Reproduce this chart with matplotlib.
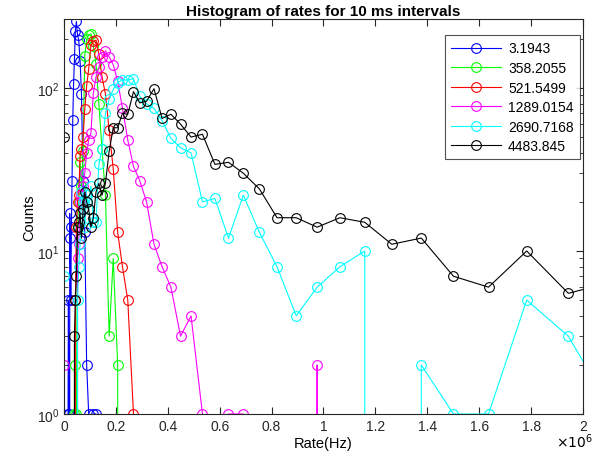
import matplotlib
matplotlib.use("Agg")
import matplotlib.pyplot as plt
from matplotlib.ticker import FixedLocator, FuncFormatter, LogLocator, NullFormatter

plt.rcParams['font.family'] = ['Liberation Sans', 'DejaVu Sans']

# Common histogram bin centres (Hz)
rate_bins = [0, 15.6e3, 17.0e3, 18.5e3, 20.2e3, 22.0e3, 24.0e3, 26.1e3, 28.5e3, 31.0e3,
             33.8e3, 36.9e3, 40.2e3, 43.8e3, 47.8e3, 52.1e3, 56.8e3, 61.9e3, 67.4e3, 73.5e3,
             80.1e3, 87.3e3, 95.2e3, 103.8e3, 113.1e3, 123.3e3, 134.4e3, 146.5e3, 159.7e3, 174.0e3,
             189.7e3, 206.8e3, 225.4e3, 245.7e3, 267.8e3, 291.9e3, 318.2e3, 346.8e3, 378.0e3, 412.0e3,
             449.1e3, 489.5e3, 533.6e3, 581.6e3, 633.9e3, 691.0e3, 753.2e3, 821.0e3, 894.9e3, 975.4e3,
             1063.2e3, 1158.9e3, 1263.2e3, 1376.9e3, 1500.8e3, 1635.9e3, 1783.1e3, 1943.6e3, 2118.5e3]

labels = ['3.1943', '358.2055', '521.5499', '1289.0154', '2690.7168', '4483.845']

counts_3_1943 = [0, 1, 5, 1, 0, 17, 12, 5, 14, 27,
                 64, 106, 150, 225, 256, 212, 197, 147, 92, 27,
                 13, 2, 1, 0, 1, 1, 0, 0, 0, 0,
                 0, 0, 0, 0, 0, 0, 0, 0, 0, 0,
                 0, 0, 0, 0, 0, 0, 0, 0, 0, 0,
                 0, 0, 0, 0, 0, 0, 0, 0, 0]
counts_358_2055 = [0, 0, 0, 0, 0, 0, 0, 0, 0, 0,
                   0, 0, 1, 2, 1, 14, 20, 35, 25, 41,
                   158, 200, 212, 215, 180, 140, 80, 42, 22, 3,
                   9, 2, 0, 0, 0, 0, 0, 0, 0, 0,
                   0, 0, 0, 0, 0, 0, 0, 0, 0, 0,
                   0, 0, 0, 0, 0, 0, 0, 0, 0]
counts_521_5499 = [0, 0, 0, 0, 0, 0, 0, 0, 0, 0,
                   0, 0, 0, 5, 14, 20, 22, 38, 42, 50,
                   74, 103, 131, 183, 193, 197, 162, 117, 92, 55,
                   32, 13, 8, 5, 1, 0, 0, 0, 0, 0,
                   0, 0, 0, 0, 0, 0, 0, 0, 0, 0,
                   0, 0, 0, 0, 0, 0, 0, 0, 0]
counts_1289_0154 = [2, 0, 0, 0, 0, 0, 0, 0, 0, 0,
                    0, 0, 0, 0, 0, 9, 11, 20, 22, 25,
                    30, 40, 48, 53, 93, 117, 134, 155, 169, 155,
                    139, 110, 75, 48, 33, 27, 20, 11, 8, 6,
                    3, 4, 1, 0, 1, 1, 0, 0, 0, 2,
                    0, 0, 0, 0, 0, 0, 0, 0, 0]
counts_2690_7168 = [7, 0, 0, 0, 0, 0, 0, 0, 0, 0,
                    0, 0, 0, 0, 0, 5, 8, 11, 23, 20,
                    14, 22, 18, 25, 15, 15, 34, 42, 70, 85,
                    98, 108, 112, 112, 114, 89, 80, 75, 63, 49,
                    43, 40, 20, 21, 12, 22, 13, 8, 4, 6,
                    8, 10, 0, 2, 1, 1, 5, 3, 1]
counts_4483_845 = [50, 0, 0, 0, 0, 0, 0, 0, 0, 0,
                   0, 0, 3, 5, 7, 14, 15, 17, 12, 18,
                   23, 20, 18, 14, 16, 23, 26, 22, 26, 41,
                   57, 57, 70, 69, 95, 81, 83, 99, 65, 69,
                   60, 50, 52, 34, 35, 30, 24, 16, 16, 14,
                   16, 15, 11, 12, 7, 6, 10, 5.5, 6.5]

series = [counts_3_1943, counts_358_2055, counts_521_5499,
          counts_1289_0154, counts_2690_7168, counts_4483_845]
colors = ['#0000ff', '#00ff00', '#ff0000', '#ff00ff', '#00ffff', '#000000']

fig = plt.figure(figsize=(5.97, 4.60), dpi=100)
ax = fig.add_axes([64/597, 45/460, (583-64)/597, (415-20)/460])

for y, c, lab in zip(series, colors, labels):
    ax.plot(rate_bins, y, color=c, lw=0.8, marker='o', markersize=7,
            markerfacecolor='none', markeredgecolor=c, markeredgewidth=0.8, label=lab)

ax.set_yscale('log', nonpositive='clip')
ax.set_xlim(0, 2e6)
ax.set_ylim(1, 265)

ax.xaxis.set_major_locator(FixedLocator([i * 0.2e6 for i in range(11)]))
ax.xaxis.set_major_formatter(FuncFormatter(lambda v, p: ('%g' % (v / 1e6))))
ax.yaxis.set_major_locator(LogLocator(base=10, numticks=10))
ax.yaxis.set_minor_locator(LogLocator(base=10, subs=range(2, 10), numticks=10))
ax.yaxis.set_minor_formatter(NullFormatter())

ax.tick_params(which='both', direction='in', top=True, right=True, labelsize=10, colors='#262626')
ax.tick_params(which='major', length=5)
ax.tick_params(which='minor', length=3)
for s in ax.spines.values():
    s.set_color('#262626')
    s.set_linewidth(0.8)

ax.set_title('Histogram of rates for 10 ms intervals', fontsize=11, fontweight='bold', pad=3)
ax.set_xlabel('Rate(Hz)', fontsize=10.5, labelpad=2)
ax.set_ylabel('Counts', fontsize=10.5, labelpad=0)
ax.text(1.02, -0.045, r'$\times10^{6}$', transform=ax.transAxes, ha='right', va='top', fontsize=10)

leg = ax.legend(loc='upper right', bbox_to_anchor=(0.994, 0.959), fontsize=10, frameon=True,
                fancybox=False, edgecolor='#262626', handlelength=3.6, borderpad=0.45,
                labelspacing=0.4, handletextpad=0.5, borderaxespad=0.0)
leg.get_frame().set_linewidth(0.8)

fig.savefig('out.png', dpi=100)
